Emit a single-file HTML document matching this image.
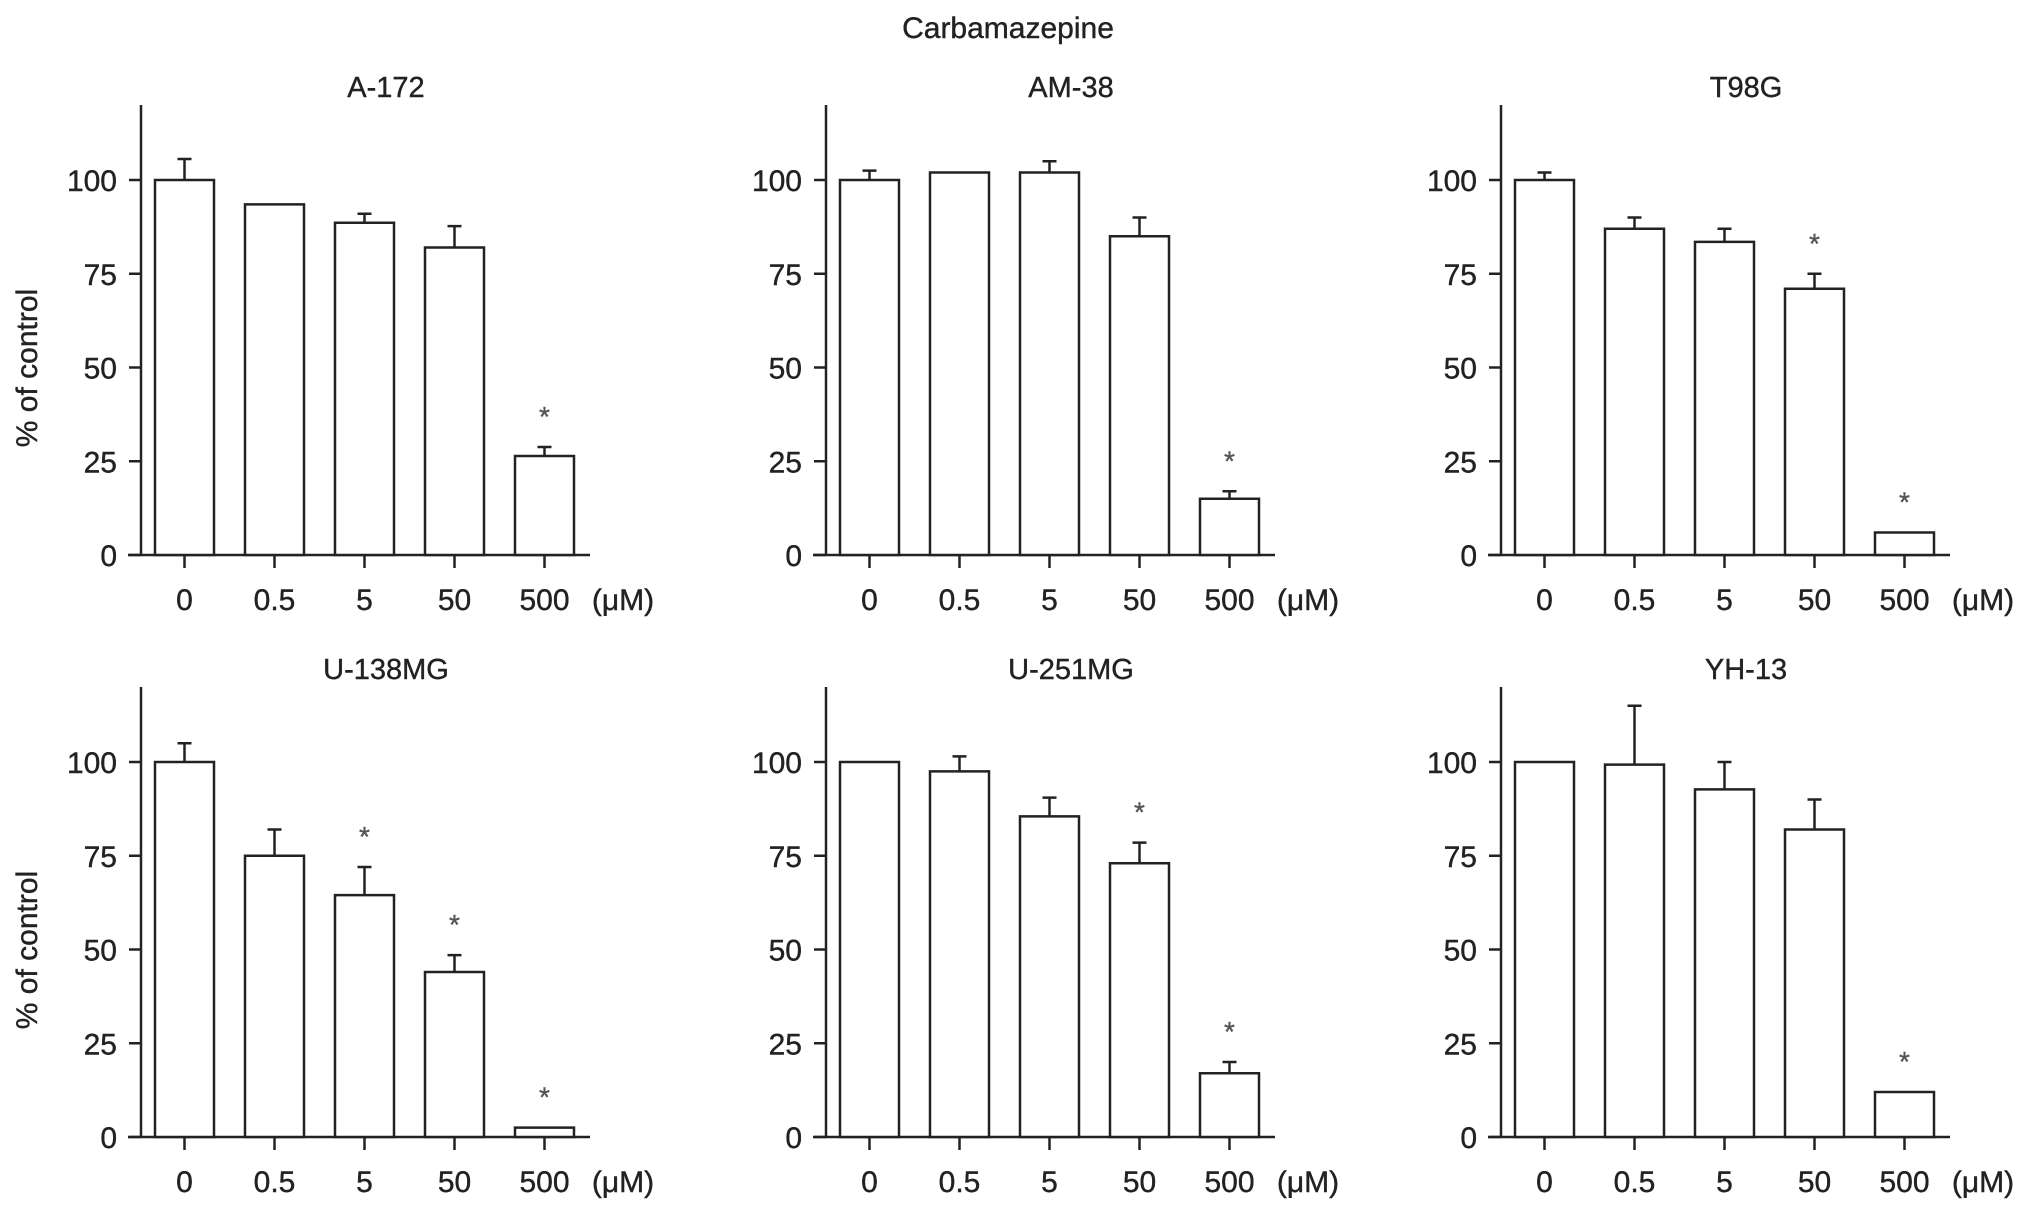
<!DOCTYPE html>
<html><head><meta charset="utf-8">
<style>
html,body{margin:0;padding:0;background:#fff;}
svg{display:block;font-family:"Liberation Sans",Arial,sans-serif;}
svg text{stroke:#222;stroke-width:0.4px;}
</style></head>
<body>
<svg id="fig" width="2032" height="1213" viewBox="0 0 2032 1213" xmlns="http://www.w3.org/2000/svg">
<text x="1008" y="38" font-size="30" text-anchor="middle" fill="#222">Carbamazepine</text>
</svg>
<script>
const categories = ["0","0.5","5","50","500"];
const tickLabels = [0,25,50,75,100];
const panelTitles = ["A-172","AM-38","T98G","U-138MG","U-251MG","YH-13"];
const valsA172 = [100,93.5,88.6,82,26.4];
const errA172  = [105.6,null,91,87.7,28.8];
const sigA172  = [0,0,0,0,1];
const valsAM38 = [100,102,102,85,15];
const errAM38  = [102.5,null,105,90,17];
const sigAM38  = [0,0,0,0,1];
const valsT98G = [100,87,83.5,71,6];
const errT98G  = [102,90,87,75,null];
const sigT98G  = [0,0,0,1,1];
const valsU138 = [100,75,64.5,44,2.5];
const errU138  = [105,82,72,48.5,null];
const sigU138  = [0,0,1,1,1];
const valsU251 = [100,97.5,85.5,73,17];
const errU251  = [null,101.5,90.5,78.5,20];
const sigU251  = [0,0,0,1,1];
const valsYH13 = [100,99.3,92.7,82,12];
const errYH13  = [null,115,100,90,null];
const sigYH13  = [0,0,0,0,1];

const panelVals = [valsA172,valsAM38,valsT98G,valsU138,valsU251,valsYH13];
const panelErrs = [errA172,errAM38,errT98G,errU138,errU251,errYH13];
const panelSigs = [sigA172,sigAM38,sigT98G,sigU138,sigU251,sigYH13];

const NS="http://www.w3.org/2000/svg";
const svg=document.getElementById('fig');
function mk(tag,attrs,parent){const e=document.createElementNS(NS,tag);for(const k in attrs)e.setAttribute(k,attrs[k]);(parent||svg).appendChild(e);return e;}

const axisXs=[141,826,1501];
const baseYs=[555,1137];
const pxPerUnit=3.75;
const step=90, barW=59, firstOff=14;

for(let p=0;p<6;p++){
  const col=p%3,row=Math.floor(p/3);
  const ax=axisXs[col], by=baseYs[row];
  const yS=v=>by-v*pxPerUnit;
  const xS=i=>ax+firstOff+i*step;
  const g=mk('g',{});
  
  
  const t=mk('text',{x:ax+245,y:by-458,'font-size':29,'text-anchor':'middle',fill:'#222'},g);
  t.textContent=panelTitles[p];
  
  
  const ya=mk('line',{x1:ax,y1:yS(120),x2:ax,y2:by,stroke:'#222','stroke-width':2.5},g);
  
  
  const xa=mk('line',{x1:ax-13,y1:by,x2:ax+449,y2:by,stroke:'#222','stroke-width':2.5},g);
  
  
  tickLabels.forEach(v=>{
    mk('line',{x1:ax-12,y1:yS(v),x2:ax,y2:yS(v),stroke:'#222','stroke-width':2.5},g);
    const tl=mk('text',{x:ax-24,y:yS(v)+11,'font-size':30,'text-anchor':'end',fill:'#222'},g);
    tl.textContent=v;
    
    
  });
  categories.forEach((c,i)=>{
    const cx=xS(i)+barW/2;
    mk('line',{x1:cx,y1:by,x2:cx,y2:by+13,stroke:'#222','stroke-width':2.5},g);
    const xl=mk('text',{x:cx,y:by+55,'font-size':30,'text-anchor':'middle',fill:'#222'},g);
    xl.textContent=c;
    
    
    const v=panelVals[p][i];
    const b=mk('rect',{x:xS(i),y:yS(v),width:barW,height:v*pxPerUnit,fill:'#fff',stroke:'#222','stroke-width':2.5},g);
    
    
    const e=panelErrs[p][i];
    if(e!==null){
      const el=mk('path',{d:`M${cx},${yS(v)} V${yS(e)} M${cx-7},${yS(e)} H${cx+7}`,stroke:'#222','stroke-width':2.5,fill:'none'},g);
      
      
    }
    if(panelSigs[p][i]){
      const top=(e!==null?e:v)+8;
      const s=mk('text',{x:cx,y:yS(top)+9,'font-size':28,'text-anchor':'middle',fill:'#555',style:'stroke:#555'},g);
      s.textContent='*';
      
      
    }
  });
  const u=mk('text',{x:ax+482,y:by+55,'font-size':30,'text-anchor':'middle',fill:'#222'},g);
  u.textContent='(μM)';
  
  
  if(col===0){
    const yl=mk('text',{x:0,y:0,'font-size':30,'text-anchor':'middle',fill:'#222',transform:`translate(37,${by-187}) rotate(-90)`},g);
    yl.textContent='% of control';
    
    
  }
}
</script>
</body></html>
